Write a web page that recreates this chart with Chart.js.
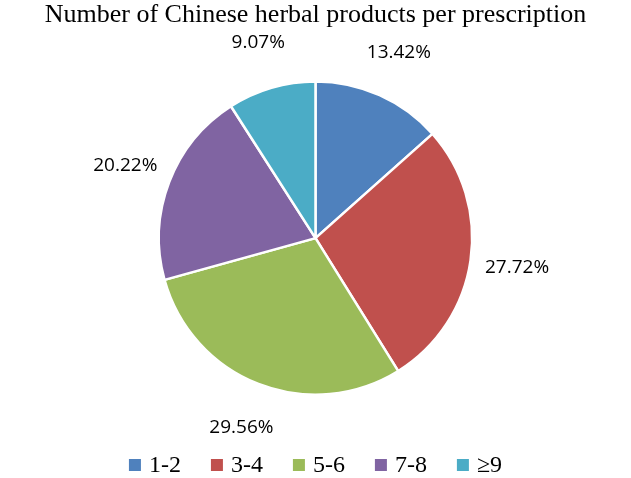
<!DOCTYPE html>
<html><head><meta charset="utf-8">
<script src="https://cdn.jsdelivr.net/npm/chart.js@4"></script>
<style>html,body{margin:0;padding:0;background:#fff}#w{width:631px;height:478px}</style>
</head><body><div id="w"><canvas id="c"></canvas></div>
<script>
const categories = ['1-2','3-4','5-6','7-8','\u22659'];
const values = [13.42,27.72,29.56,20.22,9.07];
const colors = ['#4F81BD','#C0504D','#9BBB59','#8064A2','#4BACC6'];
const labelPlugin = {
  id:'lbl',
  afterDatasetsDraw(chart){
    const ctx=chart.ctx;
    const meta=chart.getDatasetMeta(0);
    ctx.save();
    ctx.font='19px "Open Sans", "DejaVu Sans", sans-serif';
    ctx.fillStyle='#000';ctx.textAlign='center';ctx.textBaseline='middle';
    meta.data.forEach((a,i)=>{
      const m=(a.startAngle+a.endAngle)/2, d=a.outerRadius*1.3;
      ctx.fillText(values[i].toFixed(2)+'%', a.x+Math.cos(m)*d, a.y+Math.sin(m)*d);
    });
    // legend
    ctx.font='24px "Liberation Serif", serif';
    ctx.textAlign='left';
    const gap=30, box=12, tg=8;
    const widths=categories.map(c=>box+tg+ctx.measureText(c).width);
    const total=widths.reduce((s,w)=>s+w,0)+gap*(categories.length-1);
    let x=(chart.width-total)/2; const y=465;
    categories.forEach((c,i)=>{
      ctx.fillStyle=colors[i]; ctx.fillRect(x,y-6,box,box);
      ctx.fillStyle='#000'; ctx.fillText(c,x+box+tg,y+1);
      x+=widths[i]+gap;
    });
    ctx.restore();
  }
};
new Chart(document.getElementById('c'),{
  type:'pie',
  data:{labels:categories,datasets:[{data:values,backgroundColor:colors,borderColor:'#fff',borderWidth:2.5}]},
  options:{responsive:true,maintainAspectRatio:false,animation:false,
    layout:{padding:{top:0,bottom:82}},
    plugins:{
      title:{display:true,text:'Number of Chinese herbal products per prescription',color:'#000',
        font:{family:'"Liberation Serif", serif',size:26,weight:'normal'},padding:{top:0,bottom:49}},
      legend:{display:false},
      tooltip:{enabled:false}
    }},
  plugins:[labelPlugin]
});
</script></body></html>
